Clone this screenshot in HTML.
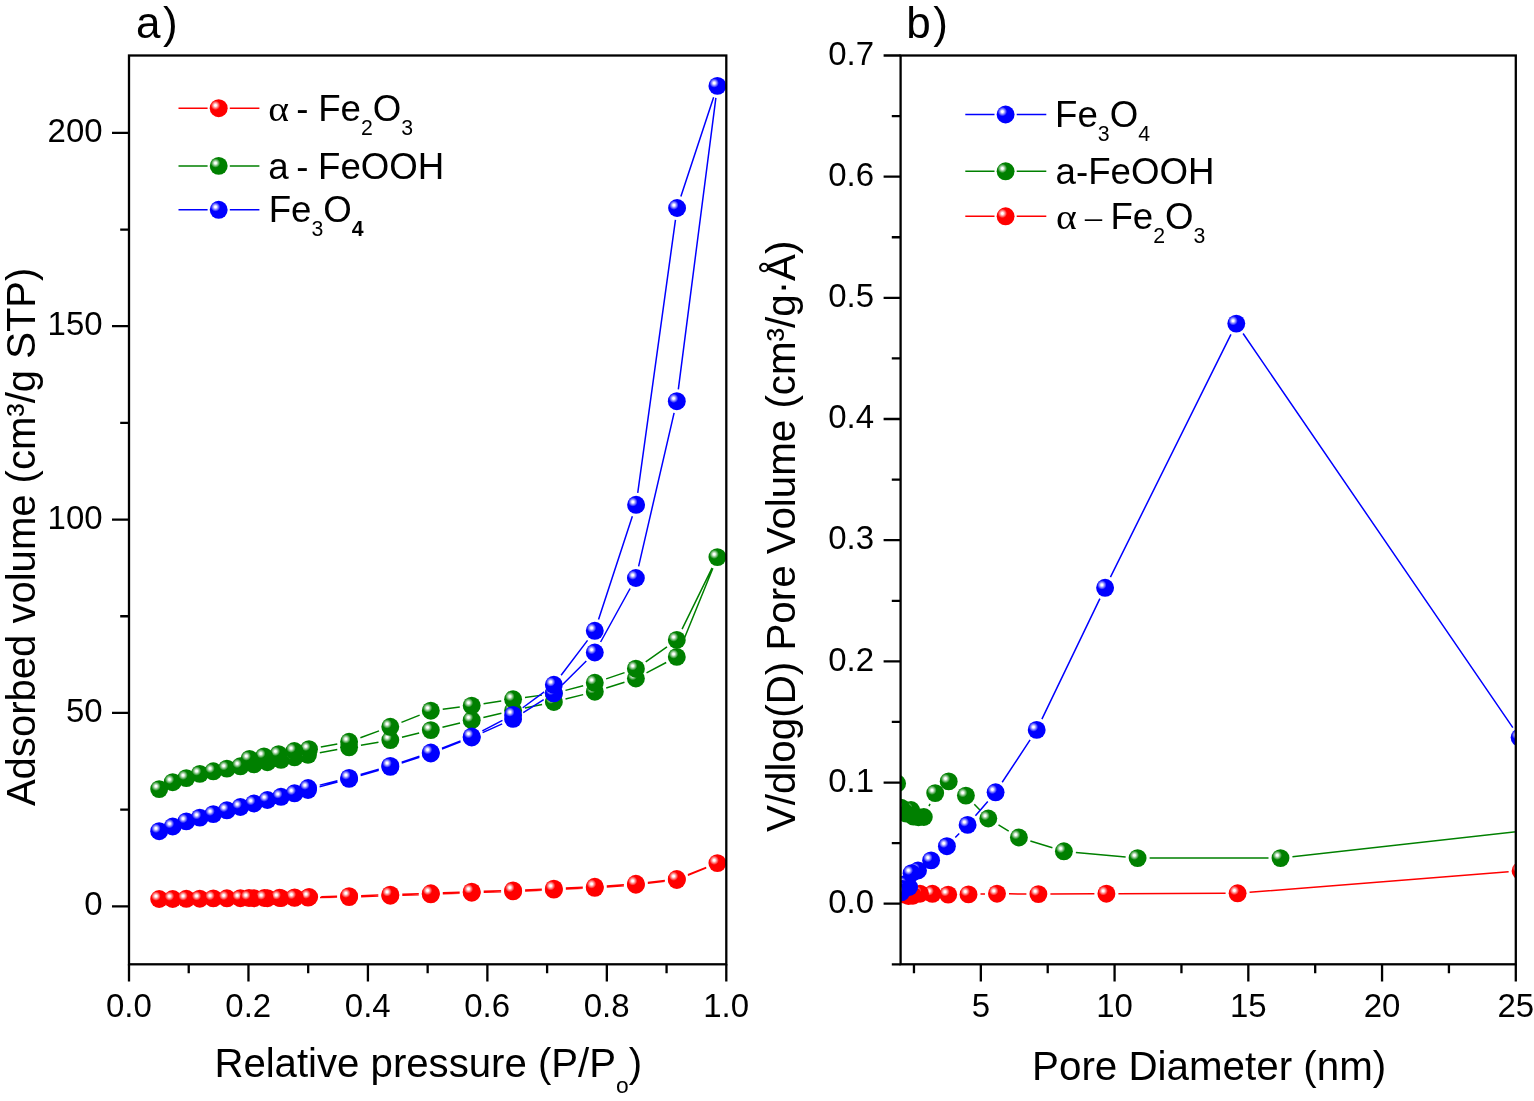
<!DOCTYPE html>
<html lang="en"><head><meta charset="utf-8"><title>N2 adsorption isotherms and pore size distribution</title>
<style>html,body{margin:0;padding:0;background:#fff}body{width:1534px;height:1101px;overflow:hidden}svg{display:block}text{font-family:'Liberation Sans', Arial, Helvetica, sans-serif;fill:#000}</style>
</head><body>
<svg width="1534" height="1101" viewBox="0 0 1534 1101">
<defs>
<radialGradient id="gr" cx="0.32" cy="0.34" r="0.26" fx="0.32" fy="0.34"><stop offset="0" stop-color="#fff"/><stop offset="0.2" stop-color="#fff"/><stop offset="1" stop-color="#ff0000"/></radialGradient>
<radialGradient id="gg" cx="0.32" cy="0.34" r="0.26" fx="0.32" fy="0.34"><stop offset="0" stop-color="#fff"/><stop offset="0.2" stop-color="#fff"/><stop offset="1" stop-color="#008000"/></radialGradient>
<radialGradient id="gb" cx="0.32" cy="0.34" r="0.26" fx="0.32" fy="0.34"><stop offset="0" stop-color="#fff"/><stop offset="0.2" stop-color="#fff"/><stop offset="1" stop-color="#0000ff"/></radialGradient>
<clipPath id="clipA"><rect x="129" y="55.5" width="597.3" height="908.8"/></clipPath>
<clipPath id="clipB"><rect x="900.6" y="55.5" width="615.2" height="908.8"/></clipPath>
</defs>
<rect width="1534" height="1101" fill="#fff"/>
<g id="panel-a-data">
<path d="M320 897.45L337.1 897.25M361.09 896.69L378.31 896.11M402.29 895.29L418.81 894.71M442.79 893.83L459.71 893.17M483.69 892.32L501.11 891.78M525.09 890.89L541.86 890.16M565.84 889.11L582.81 888.34M606.77 886.91L623.93 885.64M647.82 883.37L664.88 881.38M687.88 875.39L706.32 867.71M706.23 867.48L687.97 874.62M664.88 880.38L647.82 882.37M623.93 884.64L606.77 885.91M582.81 887.34L565.84 888.11M541.86 889.16L525.09 889.89M501.11 890.78L483.69 891.32M459.71 892.17L442.79 892.83M418.81 893.71L402.29 894.29M378.31 895.11L361.09 895.69M337.1 896.37L321.2 896.73" stroke="#ff0000" stroke-width="1.5" fill="none"/>
<circle cx="159.2" cy="899" r="8.95" fill="url(#gr)"/>
<circle cx="172.7" cy="899" r="8.95" fill="url(#gr)"/>
<circle cx="186.3" cy="898.8" r="8.95" fill="url(#gr)"/>
<circle cx="199.8" cy="898.7" r="8.95" fill="url(#gr)"/>
<circle cx="213.3" cy="898.4" r="8.95" fill="url(#gr)"/>
<circle cx="226.9" cy="898.3" r="8.95" fill="url(#gr)"/>
<circle cx="240.4" cy="898.2" r="8.95" fill="url(#gr)"/>
<circle cx="253.9" cy="898.2" r="8.95" fill="url(#gr)"/>
<circle cx="267.4" cy="898.2" r="8.95" fill="url(#gr)"/>
<circle cx="281" cy="898.1" r="8.95" fill="url(#gr)"/>
<circle cx="294.5" cy="897.9" r="8.95" fill="url(#gr)"/>
<circle cx="308" cy="897.6" r="8.95" fill="url(#gr)"/>
<circle cx="349.1" cy="897.1" r="8.95" fill="url(#gr)"/>
<circle cx="390.3" cy="895.7" r="8.95" fill="url(#gr)"/>
<circle cx="430.8" cy="894.3" r="8.95" fill="url(#gr)"/>
<circle cx="471.7" cy="892.7" r="8.95" fill="url(#gr)"/>
<circle cx="513.1" cy="891.4" r="8.95" fill="url(#gr)"/>
<circle cx="553.85" cy="889.65" r="8.95" fill="url(#gr)"/>
<circle cx="594.8" cy="887.8" r="8.95" fill="url(#gr)"/>
<circle cx="635.9" cy="884.75" r="8.95" fill="url(#gr)"/>
<circle cx="676.8" cy="880" r="8.95" fill="url(#gr)"/>
<circle cx="717.4" cy="863.1" r="8.95" fill="url(#gr)"/>
<circle cx="676.8" cy="879" r="8.95" fill="url(#gr)"/>
<circle cx="635.9" cy="883.75" r="8.95" fill="url(#gr)"/>
<circle cx="594.8" cy="886.8" r="8.95" fill="url(#gr)"/>
<circle cx="553.85" cy="888.65" r="8.95" fill="url(#gr)"/>
<circle cx="513.1" cy="890.4" r="8.95" fill="url(#gr)"/>
<circle cx="471.7" cy="891.7" r="8.95" fill="url(#gr)"/>
<circle cx="430.8" cy="893.3" r="8.95" fill="url(#gr)"/>
<circle cx="390.3" cy="894.7" r="8.95" fill="url(#gr)"/>
<circle cx="349.1" cy="896.1" r="8.95" fill="url(#gr)"/>
<circle cx="309.2" cy="897" r="8.95" fill="url(#gr)"/>
<circle cx="294.6" cy="897.4" r="8.95" fill="url(#gr)"/>
<circle cx="279.5" cy="897.8" r="8.95" fill="url(#gr)"/>
<circle cx="264.4" cy="898" r="8.95" fill="url(#gr)"/>
<circle cx="249" cy="898" r="8.95" fill="url(#gr)"/>
<path d="M319.81 752.65L337.29 749.45M360.92 745.23L378.48 742.17M401.95 737.22L419.15 732.98M442.46 727.28L460.04 723.02M483.38 717.46L501.42 713.24M524.85 708.05L542.1 704.45M565.49 699.07L583.16 694.63M606.23 688.03L624.47 682.17M646.51 672.9L666.19 662.5M681.32 645.78L712.88 568.22M712.12 567.87L682.08 629.13M666.99 646.81L645.71 661.79M624.55 672.59L606.15 678.91M583.18 685.81L565.47 690.39M541.97 695.12L524.98 697.58M501.24 701.11L483.56 703.79M459.79 707.08L442.71 709.22M419.65 715.13L401.45 722.37M379.02 730.91L360.38 737.69M337.3 743.98L320.8 747.02" stroke="#008000" stroke-width="1.5" fill="none"/>
<circle cx="159.2" cy="789.1" r="8.95" fill="url(#gg)"/>
<circle cx="172.7" cy="782.2" r="8.95" fill="url(#gg)"/>
<circle cx="186.3" cy="778.1" r="8.95" fill="url(#gg)"/>
<circle cx="199.8" cy="773.9" r="8.95" fill="url(#gg)"/>
<circle cx="213.3" cy="771.3" r="8.95" fill="url(#gg)"/>
<circle cx="226.9" cy="768.6" r="8.95" fill="url(#gg)"/>
<circle cx="240.4" cy="766.3" r="8.95" fill="url(#gg)"/>
<circle cx="253.9" cy="764.3" r="8.95" fill="url(#gg)"/>
<circle cx="267.4" cy="762.2" r="8.95" fill="url(#gg)"/>
<circle cx="281" cy="759.8" r="8.95" fill="url(#gg)"/>
<circle cx="294.5" cy="757.4" r="8.95" fill="url(#gg)"/>
<circle cx="308" cy="754.8" r="8.95" fill="url(#gg)"/>
<circle cx="349.1" cy="747.3" r="8.95" fill="url(#gg)"/>
<circle cx="390.3" cy="740.1" r="8.95" fill="url(#gg)"/>
<circle cx="430.8" cy="730.1" r="8.95" fill="url(#gg)"/>
<circle cx="471.7" cy="720.2" r="8.95" fill="url(#gg)"/>
<circle cx="513.1" cy="710.5" r="8.95" fill="url(#gg)"/>
<circle cx="553.85" cy="702" r="8.95" fill="url(#gg)"/>
<circle cx="594.8" cy="691.7" r="8.95" fill="url(#gg)"/>
<circle cx="635.9" cy="678.5" r="8.95" fill="url(#gg)"/>
<circle cx="676.8" cy="656.9" r="8.95" fill="url(#gg)"/>
<circle cx="717.4" cy="557.1" r="8.95" fill="url(#gg)"/>
<circle cx="676.8" cy="639.9" r="8.95" fill="url(#gg)"/>
<circle cx="635.9" cy="668.7" r="8.95" fill="url(#gg)"/>
<circle cx="594.8" cy="682.8" r="8.95" fill="url(#gg)"/>
<circle cx="553.85" cy="693.4" r="8.95" fill="url(#gg)"/>
<circle cx="513.1" cy="699.3" r="8.95" fill="url(#gg)"/>
<circle cx="471.7" cy="705.6" r="8.95" fill="url(#gg)"/>
<circle cx="430.8" cy="710.7" r="8.95" fill="url(#gg)"/>
<circle cx="390.3" cy="726.8" r="8.95" fill="url(#gg)"/>
<circle cx="349.1" cy="741.8" r="8.95" fill="url(#gg)"/>
<circle cx="309" cy="749.2" r="8.95" fill="url(#gg)"/>
<circle cx="294.3" cy="751" r="8.95" fill="url(#gg)"/>
<circle cx="278.6" cy="754.2" r="8.95" fill="url(#gg)"/>
<circle cx="264" cy="756.4" r="8.95" fill="url(#gg)"/>
<circle cx="249.5" cy="758.9" r="8.95" fill="url(#gg)"/>
<path d="M319.58 786.87L337.52 782.03M360.62 775.54L378.78 770.26M401.69 763.13L419.41 757.27M441.98 749.13L460.52 741.87M482.65 732.58L502.15 723.82M523.26 712.52L543.69 699.68M562.35 684.83L586.3 660.97M600.6 641.99L630.1 588.51M638.6 566.31L674.1 412.89M678.33 389.3L715.87 97.8M713.64 97.3L680.86 196.6M675.46 219.89L637.74 492.91M632.36 516.2L598.54 619.4M587.55 640.36L561.1 675.24M544.2 691.93L522.75 707.77M502.46 720.45L482.34 730.95M460.52 740.87L441.98 748.13M419.41 756.27L401.69 762.13M378.78 769.26L360.62 774.54M337.45 780.77L319.75 785.13" stroke="#0000ff" stroke-width="1.5" fill="none"/>
<circle cx="159.2" cy="831.2" r="8.95" fill="url(#gb)"/>
<circle cx="172.7" cy="826.5" r="8.95" fill="url(#gb)"/>
<circle cx="186.3" cy="821.4" r="8.95" fill="url(#gb)"/>
<circle cx="199.8" cy="817.6" r="8.95" fill="url(#gb)"/>
<circle cx="213.3" cy="814.1" r="8.95" fill="url(#gb)"/>
<circle cx="226.9" cy="810.3" r="8.95" fill="url(#gb)"/>
<circle cx="240.4" cy="807" r="8.95" fill="url(#gb)"/>
<circle cx="253.9" cy="803.5" r="8.95" fill="url(#gb)"/>
<circle cx="267.4" cy="800" r="8.95" fill="url(#gb)"/>
<circle cx="281" cy="796.8" r="8.95" fill="url(#gb)"/>
<circle cx="294.5" cy="793.3" r="8.95" fill="url(#gb)"/>
<circle cx="308" cy="790" r="8.95" fill="url(#gb)"/>
<circle cx="349.1" cy="778.9" r="8.95" fill="url(#gb)"/>
<circle cx="390.3" cy="766.9" r="8.95" fill="url(#gb)"/>
<circle cx="430.8" cy="753.5" r="8.95" fill="url(#gb)"/>
<circle cx="471.7" cy="737.5" r="8.95" fill="url(#gb)"/>
<circle cx="513.1" cy="718.9" r="8.95" fill="url(#gb)"/>
<circle cx="553.85" cy="693.3" r="8.95" fill="url(#gb)"/>
<circle cx="594.8" cy="652.5" r="8.95" fill="url(#gb)"/>
<circle cx="635.9" cy="578" r="8.95" fill="url(#gb)"/>
<circle cx="676.8" cy="401.2" r="8.95" fill="url(#gb)"/>
<circle cx="717.4" cy="85.9" r="8.95" fill="url(#gb)"/>
<circle cx="677.1" cy="208" r="8.95" fill="url(#gb)"/>
<circle cx="636.1" cy="504.8" r="8.95" fill="url(#gb)"/>
<circle cx="594.8" cy="630.8" r="8.95" fill="url(#gb)"/>
<circle cx="553.85" cy="684.8" r="8.95" fill="url(#gb)"/>
<circle cx="513.1" cy="714.9" r="8.95" fill="url(#gb)"/>
<circle cx="471.7" cy="736.5" r="8.95" fill="url(#gb)"/>
<circle cx="430.8" cy="752.5" r="8.95" fill="url(#gb)"/>
<circle cx="390.3" cy="765.9" r="8.95" fill="url(#gb)"/>
<circle cx="349.1" cy="777.9" r="8.95" fill="url(#gb)"/>
<circle cx="308.1" cy="788" r="8.95" fill="url(#gb)"/>
</g>
<g stroke="#000" stroke-width="2.3" fill="none" stroke-linecap="butt">
<rect x="129" y="55.5" width="597.3" height="908.8"/>
<path d="M112 906.29H129M120.2 809.61H129M112 712.93H129M120.2 616.25H129M112 519.57H129M120.2 422.89H129M112 326.21H129M120.2 229.53H129M112 132.84H129M129 964.3V981.5M188.73 964.3V973.3M248.46 964.3V981.5M308.19 964.3V973.3M367.92 964.3V981.5M427.65 964.3V973.3M487.38 964.3V981.5M547.11 964.3V973.3M606.84 964.3V981.5M666.57 964.3V973.3M726.3 964.3V981.5"/>
</g>
<g font-size="33">
<text transform="translate(102.6 915.49) scale(1 1.027)" text-anchor="end">0</text>
<text transform="translate(102.6 722.13) scale(1 1.027)" text-anchor="end">50</text>
<text transform="translate(102.6 528.77) scale(1 1.027)" text-anchor="end">100</text>
<text transform="translate(102.6 335.41) scale(1 1.027)" text-anchor="end">150</text>
<text transform="translate(102.6 142.04) scale(1 1.027)" text-anchor="end">200</text>
<text transform="translate(128.8 1016.8) scale(1 1.027)" text-anchor="middle">0.0</text>
<text transform="translate(248.26 1016.8) scale(1 1.027)" text-anchor="middle">0.2</text>
<text transform="translate(367.72 1016.8) scale(1 1.027)" text-anchor="middle">0.4</text>
<text transform="translate(487.18 1016.8) scale(1 1.027)" text-anchor="middle">0.6</text>
<text transform="translate(606.64 1016.8) scale(1 1.027)" text-anchor="middle">0.8</text>
<text transform="translate(726.1 1016.8) scale(1 1.027)" text-anchor="middle">1.0</text>
</g>
<text x="136.1" y="38.2" font-size="44">a<tspan x="163.0">)</tspan></text>
<text transform="translate(35 806.1) rotate(-90)" font-size="40.33" textLength="538.5" lengthAdjust="spacingAndGlyphs">Adsorbed volume (cm³/g STP)</text>
<text x="214.4" y="1077.3" font-size="40.15">Relative pressure (P/P<tspan dy="15.6" font-size="22.8">o</tspan><tspan dy="-15.6">)</tspan></text>
<path d="M178.5 108.2L207.6 108.2M229.8 108.2L259.4 108.2" stroke="#ff0000" stroke-width="1.5" fill="none"/>
<circle cx="218.7" cy="108.2" r="8.95" fill="url(#gr)"/>
<path d="M178.5 165.9L207.6 165.9M229.8 165.9L259.4 165.9" stroke="#008000" stroke-width="1.5" fill="none"/>
<circle cx="218.7" cy="165.9" r="8.95" fill="url(#gg)"/>
<path d="M178.5 209.8L207.6 209.8M229.8 209.8L259.4 209.8" stroke="#0000ff" stroke-width="1.5" fill="none"/>
<circle cx="218.7" cy="209.8" r="8.95" fill="url(#gb)"/>
<g font-size="36.67">
<text transform="translate(268.3 121.1) scale(1.1 1)" font-size="36.0" style="font-family:'Liberation Serif','Times New Roman',serif">α</text>
<text transform="translate(286 121.1) scale(1 1.03)" xml:space="preserve"> - </text>
<text transform="translate(318.2 121.1) scale(1 1.03)">Fe<tspan dy="13.5" font-size="21.27">2</tspan><tspan dy="-13.5">O</tspan><tspan dy="13.5" font-size="21.27">3</tspan></text>
<text transform="translate(268.25 178.5) scale(1 1.03)">a</text>
<text transform="translate(296.2 178.5) scale(1 1.03)">-</text>
<text transform="translate(318 178.5) scale(1 1.03)">FeOOH</text>
<text transform="translate(268.7 222.2) scale(1 1.03)">Fe<tspan dy="13.5" font-size="21.27">3</tspan><tspan dy="-13.5">O</tspan><tspan dy="13.5" font-size="21.27" font-weight="bold">4</tspan></text>
</g>
<g id="panel-b-data" clip-path="url(#clipB)">
<path d="M1508.64 871.85L1249.56 892.35M1225.6 893.34L1118.4 893.66M1094.4 893.77L1050.4 894.03M1026.4 893.98L1009 893.82M985 893.99L980.5 894.11" stroke="#ff0000" stroke-width="1.5" fill="none"/>
<circle cx="1520.6" cy="870.9" r="8.95" fill="url(#gr)"/>
<circle cx="1237.6" cy="893.3" r="8.95" fill="url(#gr)"/>
<circle cx="1106.4" cy="893.7" r="8.95" fill="url(#gr)"/>
<circle cx="1038.4" cy="894.1" r="8.95" fill="url(#gr)"/>
<circle cx="997" cy="893.7" r="8.95" fill="url(#gr)"/>
<circle cx="968.5" cy="894.4" r="8.95" fill="url(#gr)"/>
<circle cx="948.2" cy="894.6" r="8.95" fill="url(#gr)"/>
<circle cx="932.4" cy="893.8" r="8.95" fill="url(#gr)"/>
<circle cx="920" cy="893.7" r="8.95" fill="url(#gr)"/>
<circle cx="912.9" cy="895.7" r="8.95" fill="url(#gr)"/>
<circle cx="908.5" cy="896" r="8.95" fill="url(#gr)"/>
<circle cx="905" cy="894.6" r="8.95" fill="url(#gr)"/>
<path d="M1678.07 813.63L1292.43 856.77M1268.5 858.1L1149.6 858.1M1125.65 857L1075.85 852.4M1052.43 847.78L1030.37 841.02M1008.71 831.17L998.49 824.83M979.91 809.92L974.29 804.18M930.03 803.93L928.97 806.17M899.08 795.75L899.02 795.35" stroke="#008000" stroke-width="1.5" fill="none"/>
<circle cx="1690" cy="812.3" r="8.95" fill="url(#gg)"/>
<circle cx="1280.5" cy="858.1" r="8.95" fill="url(#gg)"/>
<circle cx="1137.6" cy="858.1" r="8.95" fill="url(#gg)"/>
<circle cx="1063.9" cy="851.3" r="8.95" fill="url(#gg)"/>
<circle cx="1018.9" cy="837.5" r="8.95" fill="url(#gg)"/>
<circle cx="988.3" cy="818.5" r="8.95" fill="url(#gg)"/>
<circle cx="965.9" cy="795.6" r="8.95" fill="url(#gg)"/>
<circle cx="948.7" cy="781.4" r="8.95" fill="url(#gg)"/>
<circle cx="935.2" cy="793.1" r="8.95" fill="url(#gg)"/>
<circle cx="923.8" cy="817" r="8.95" fill="url(#gg)"/>
<circle cx="918.5" cy="817.2" r="8.95" fill="url(#gg)"/>
<circle cx="913.5" cy="816.6" r="8.95" fill="url(#gg)"/>
<circle cx="911" cy="810" r="8.95" fill="url(#gg)"/>
<circle cx="906.3" cy="813.6" r="8.95" fill="url(#gg)"/>
<circle cx="903.6" cy="811.6" r="8.95" fill="url(#gg)"/>
<circle cx="901" cy="807.6" r="8.95" fill="url(#gg)"/>
<circle cx="897.1" cy="783.5" r="8.95" fill="url(#gg)"/>
<path d="M1512.82 727.7L1243.08 333.5M1230.96 334.35L1110.44 577.05M1099.9 598.61L1041.9 719.09M1030.1 739.92L1002.2 782.28M987.78 801.4L975.42 815.8M959.24 833.51L955.26 837.59" stroke="#0000ff" stroke-width="1.5" fill="none"/>
<circle cx="1519.6" cy="737.6" r="8.95" fill="url(#gb)"/>
<circle cx="1236.3" cy="323.6" r="8.95" fill="url(#gb)"/>
<circle cx="1105.1" cy="587.8" r="8.95" fill="url(#gb)"/>
<circle cx="1036.7" cy="729.9" r="8.95" fill="url(#gb)"/>
<circle cx="995.6" cy="792.3" r="8.95" fill="url(#gb)"/>
<circle cx="967.6" cy="824.9" r="8.95" fill="url(#gb)"/>
<circle cx="946.9" cy="846.2" r="8.95" fill="url(#gb)"/>
<circle cx="931.1" cy="860.4" r="8.95" fill="url(#gb)"/>
<circle cx="918" cy="870.5" r="8.95" fill="url(#gb)"/>
<circle cx="911.6" cy="873.2" r="8.95" fill="url(#gb)"/>
<circle cx="909.1" cy="887" r="8.95" fill="url(#gb)"/>
<circle cx="904.6" cy="884.4" r="8.95" fill="url(#gb)"/>
<circle cx="902.6" cy="889" r="8.95" fill="url(#gb)"/>
<circle cx="901.1" cy="892.3" r="8.95" fill="url(#gb)"/>
</g>
<g stroke="#000" stroke-width="2.3" fill="none" stroke-linecap="butt">
<rect x="900.6" y="55.5" width="615.2" height="908.8"/>
<path d="M891.8 964.3H900.6M883.6 903.71H900.6M891.8 843.13H900.6M883.6 782.54H900.6M891.8 721.95H900.6M883.6 661.37H900.6M891.8 600.78H900.6M883.6 540.19H900.6M891.8 479.61H900.6M883.6 419.02H900.6M891.8 358.43H900.6M883.6 297.85H900.6M891.8 237.26H900.6M883.6 176.67H900.6M891.8 116.09H900.6M883.6 55.5H900.6M913.97 964.3V973.3M980.84 964.3V981.5M1047.71 964.3V973.3M1114.58 964.3V981.5M1181.45 964.3V973.3M1248.32 964.3V981.5M1315.19 964.3V973.3M1382.06 964.3V981.5M1448.93 964.3V973.3M1515.8 964.3V981.5"/>
</g>
<g font-size="33">
<text transform="translate(874 912.91) scale(1 1.027)" text-anchor="end">0.0</text>
<text transform="translate(874 791.74) scale(1 1.027)" text-anchor="end">0.1</text>
<text transform="translate(874 670.57) scale(1 1.027)" text-anchor="end">0.2</text>
<text transform="translate(874 549.39) scale(1 1.027)" text-anchor="end">0.3</text>
<text transform="translate(874 428.22) scale(1 1.027)" text-anchor="end">0.4</text>
<text transform="translate(874 307.05) scale(1 1.027)" text-anchor="end">0.5</text>
<text transform="translate(874 185.87) scale(1 1.027)" text-anchor="end">0.6</text>
<text transform="translate(874 64.7) scale(1 1.027)" text-anchor="end">0.7</text>
<text transform="translate(980.84 1016.8) scale(1 1.027)" text-anchor="middle">5</text>
<text transform="translate(1114.58 1016.8) scale(1 1.027)" text-anchor="middle">10</text>
<text transform="translate(1248.32 1016.8) scale(1 1.027)" text-anchor="middle">15</text>
<text transform="translate(1382.06 1016.8) scale(1 1.027)" text-anchor="middle">20</text>
<text transform="translate(1515.8 1016.8) scale(1 1.027)" text-anchor="middle">25</text>
</g>
<text x="906.3" y="37.8" font-size="44">b<tspan x="933.3">)</tspan></text>
<text transform="translate(795 832.1) rotate(-90)" font-size="40.33" textLength="591.5" lengthAdjust="spacingAndGlyphs">V/dlog(D) Pore Volume (cm³/g·Å)</text>
<text x="1032.1" y="1080.1" font-size="40.33">Pore Diameter (nm)</text>
<path d="M965.3 114.5L994.5 114.5M1016.7 114.5L1046.3 114.5" stroke="#0000ff" stroke-width="1.5" fill="none"/>
<circle cx="1005.6" cy="114.5" r="8.95" fill="url(#gb)"/>
<path d="M965.3 171.3L994.5 171.3M1016.7 171.3L1046.3 171.3" stroke="#008000" stroke-width="1.5" fill="none"/>
<circle cx="1005.6" cy="171.3" r="8.95" fill="url(#gg)"/>
<path d="M965.3 216.3L994.5 216.3M1016.7 216.3L1046.3 216.3" stroke="#ff0000" stroke-width="1.5" fill="none"/>
<circle cx="1005.6" cy="216.3" r="8.95" fill="url(#gr)"/>
<g font-size="36.67">
<text transform="translate(1055 127.2) scale(1 1.03)">Fe<tspan dy="13.5" font-size="21.27">3</tspan><tspan dy="-13.5">O</tspan><tspan dy="13.5" font-size="21.27">4</tspan></text>
<text transform="translate(1055.6 183.6) scale(1 1.03)">a-FeOOH</text>
<text transform="translate(1055.9 229.2) scale(1.1 1)" font-size="36.0" style="font-family:'Liberation Serif','Times New Roman',serif">α</text>
<text x="1085.0" y="227.8" font-size="34" style="font-family:'Liberation Serif','Times New Roman',serif">–</text>
<text transform="translate(1110.4 229.2) scale(1 1.03)">Fe<tspan dy="13.5" font-size="21.27">2</tspan><tspan dy="-13.5">O</tspan><tspan dy="13.5" font-size="21.27">3</tspan></text>
</g>
</svg>
</body></html>
